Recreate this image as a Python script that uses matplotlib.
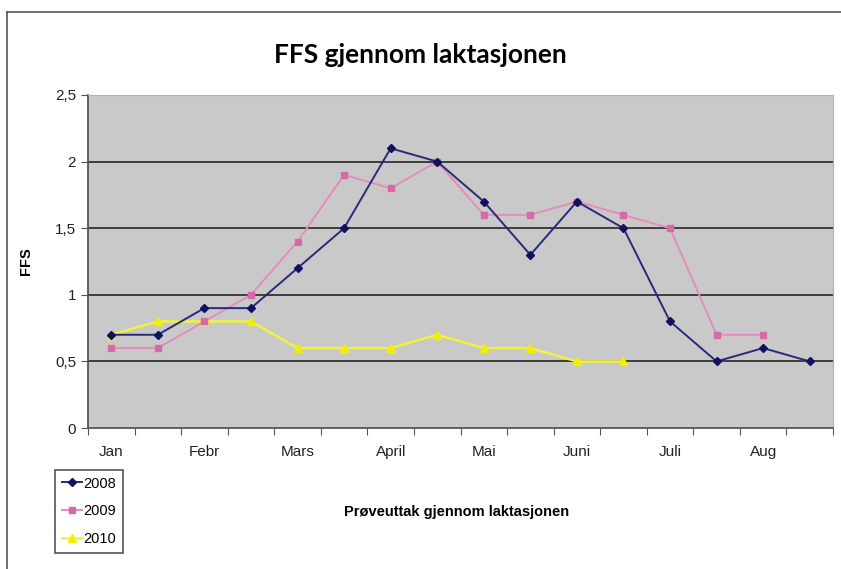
import matplotlib.pyplot as plt
from matplotlib.lines import Line2D
from matplotlib.ticker import FuncFormatter, MultipleLocator

plt.rcParams['font.family'] = ['Liberation Sans', 'DejaVu Sans']

# category labels (one per half month, label on every other)
months = ['Jan', 'Febr', 'Mars', 'April', 'Mai', 'Juni', 'Juli', 'Aug']
n_cat = 16

ffs_2008 = [0.7, 0.7, 0.9, 0.9, 1.2, 1.5, 2.1, 2.0, 1.7, 1.3, 1.7, 1.5, 0.8, 0.5, 0.6, 0.5]
ffs_2009 = [0.6, 0.6, 0.8, 1.0, 1.4, 1.9, 1.8, 2.0, 1.6, 1.6, 1.7, 1.6, 1.5, 0.7, 0.7]
ffs_2010 = [0.7, 0.8, 0.8, 0.8, 0.6, 0.6, 0.6, 0.7, 0.6, 0.6, 0.5, 0.5]

fig = plt.figure(figsize=(8.41, 5.69), dpi=100)
ax = fig.add_axes([88 / 841, 1 - 428 / 569, 745 / 841, 333 / 569])
ax.set_facecolor('#c9c9c9')

# outer frame of the figure (top and left only visible)
fig.add_artist(Line2D([7 / 841, 1], [1 - 12 / 569, 1 - 12 / 569], color='#555555', lw=1.2))
fig.add_artist(Line2D([7 / 841, 7 / 841], [0, 1 - 12 / 569], color='#555555', lw=1.2))

for y in [0.5, 1.0, 1.5, 2.0]:
    ax.axhline(y, color='#333333', lw=1.3, zorder=1)

ax.plot(range(len(ffs_2008)), ffs_2008, color='#2a2a7a', lw=1.4, marker='D', ms=4.5,
        mfc='#101060', mec='#101060', label='2008', zorder=4)
ax.plot(range(len(ffs_2009)), ffs_2009, color='#e48cbc', lw=1.4, marker='s', ms=4.5,
        mfc='#d66aa4', mec='#d66aa4', label='2009', zorder=3)
ax.plot(range(len(ffs_2010)), ffs_2010, color='#f2f23a', lw=1.8, marker='^', ms=5.5,
        mfc='#f0f000', mec='#f0f000', label='2010', zorder=2)

ax.set_xlim(-0.5, n_cat - 0.5)
ax.set_ylim(0, 2.5)

ax.set_xticks([i - 0.5 for i in range(n_cat + 1)])
ax.set_xticklabels([])
ax.set_xticks(range(0, n_cat, 2), minor=True)
ax.set_xticklabels(months, minor=True)
ax.tick_params(axis='x', which='major', length=5, color='#555555', direction='out')
ax.tick_params(axis='x', which='minor', length=0, pad=12, labelsize=11, labelcolor='#222222')

ax.yaxis.set_major_locator(MultipleLocator(0.5))
ax.yaxis.set_major_formatter(FuncFormatter(lambda v, p: ('%g' % v).replace('.', ',')))
ax.tick_params(axis='y', length=5, color='#555555', labelsize=11, labelcolor='#222222')

for s in ['left', 'bottom']:
    ax.spines[s].set_color('#555555')
    ax.spines[s].set_linewidth(1.3)
ax.spines['top'].set_color('#b0b0b0')
ax.spines['right'].set_color('#b0b0b0')

ax.set_ylabel('FFS', fontsize=10.5, fontweight='bold', labelpad=16)
fig.text(457 / 841, 1 - 512 / 569, 'Prøveuttak gjennom laktasjonen', ha='center', va='center',
         fontsize=10.5, fontweight='bold')
fig.text(420 / 841, 1 - 55 / 569, 'FFS gjennom laktasjonen', ha='center', va='center',
         fontsize=19, fontweight='bold', family='Lato')

leg = fig.legend(loc='upper left', bbox_to_anchor=(55 / 841, 1 - 470 / 569), fontsize=10.5,
                 handlelength=1.4, handletextpad=0.1, borderpad=0.45, labelspacing=0.95,
                 borderaxespad=0, fancybox=False, framealpha=1, edgecolor='#555555')
leg.get_frame().set_linewidth(1.2)

fig.savefig('out.png', dpi=100, facecolor='white')
